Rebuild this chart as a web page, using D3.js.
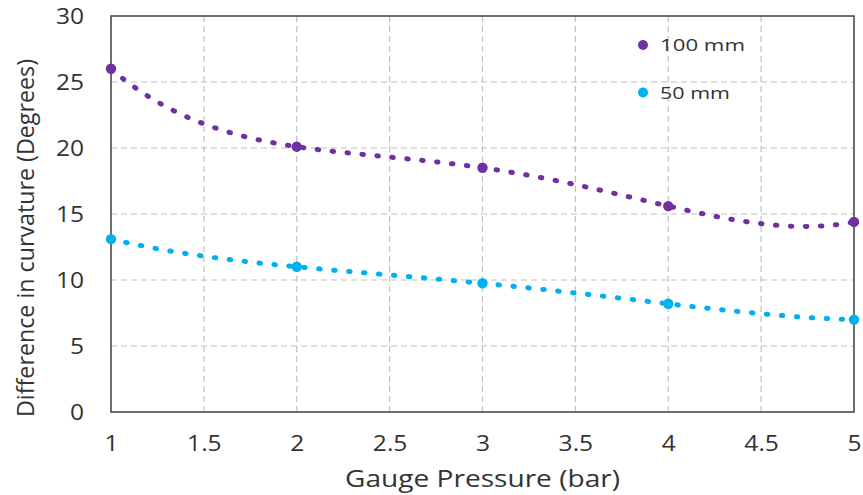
<!DOCTYPE html>
<html><head><meta charset="utf-8">
<script src="https://cdn.jsdelivr.net/npm/d3@7"></script>
<style>body{margin:0;background:#fff}text{font-family:"Open Sans",sans-serif;fill:#333}</style>
</head><body><svg id="c" width="863" height="495"></svg>
<script>
const pressure = [1, 2, 3, 4, 5];
const series100 = [26.0, 20.1, 18.5, 15.6, 14.4];
const series50 = [13.1, 11.0, 9.75, 8.2, 7.0];
const seriesNames = ["100 mm", "50 mm"];
const seriesColors = ["#7030a0", "#00b0f0"];
const xTicks = [1, 1.5, 2, 2.5, 3, 3.5, 4, 4.5, 5];
const yTicks = [0, 5, 10, 15, 20, 25, 30];
const trendOrder = 4; // polynomial trendline (order 4) drawn through each series

const svg = d3.select("#c");
const L = 111, R = 854, T = 16, B = 412;
const x = d3.scaleLinear().domain([1, 5]).range([L, R]);
const y = d3.scaleLinear().domain([0, 30]).range([B, T]);

// grid
svg.append("g").selectAll("line").data(xTicks.slice(1, -1)).join("line")
  .attr("x1", d => x(d)).attr("x2", d => x(d)).attr("y1", T).attr("y2", B)
  .attr("stroke", "#c0c0c0").attr("stroke-width", 1.2).attr("stroke-dasharray", "6,4");
svg.append("g").selectAll("line").data(yTicks.slice(1, -1)).join("line")
  .attr("y1", d => y(d)).attr("y2", d => y(d)).attr("x1", L).attr("x2", R)
  .attr("stroke", "#c0c0c0").attr("stroke-width", 1.2).attr("stroke-dasharray", "6,4");

// frame
svg.append("rect").attr("x", L).attr("y", T).attr("width", R - L).attr("height", B - T)
  .attr("fill", "none").attr("stroke", "#404040").attr("stroke-width", 1.5);

// axes
const xAxis = svg.append("g").attr("transform", `translate(0,${B})`)
  .call(d3.axisBottom(x).tickValues(xTicks).tickSize(0).tickPadding(0).tickFormat(d3.format("")));
xAxis.select(".domain").remove();
xAxis.selectAll("text").attr("y", 0).attr("dy", 0)
  .attr("transform", "translate(0,38.5) scale(1.17,1)")
  .style("font-size", "21px").style("font-family", "Open Sans").attr("fill", "#333");
const yAxis = svg.append("g").attr("transform", `translate(${L},0)`)
  .call(d3.axisLeft(y).tickValues(yTicks).tickSize(0).tickPadding(0));
yAxis.select(".domain").remove();
yAxis.selectAll("text").attr("x", 0).attr("dy", "0.36em")
  .attr("transform", "translate(-27,0) scale(1.17,1)")
  .style("font-size", "21px").style("font-family", "Open Sans").attr("fill", "#333");

svg.append("text").attr("x", 482.5).attr("y", 487).attr("text-anchor", "middle")
  .attr("textLength", 275).attr("lengthAdjust", "spacingAndGlyphs")
  .style("font-size", "23px").text("Gauge Pressure (bar)");
svg.append("text").attr("transform", `translate(33.5,238) rotate(-90)`)
  .attr("text-anchor", "middle").attr("textLength", 358).attr("lengthAdjust", "spacingAndGlyphs")
  .style("font-size", "23px").text("Difference in curvature (Degrees)");

// polynomial trendline (order 4 through 5 points == Lagrange form)
function polyTrend(xs, ys) {
  return t => {
    let s = 0;
    for (let i = 0; i < xs.length; i++) {
      let p = ys[i];
      for (let j = 0; j < xs.length; j++) if (j !== i) p *= (t - xs[j]) / (xs[i] - xs[j]);
      s += p;
    }
    return s;
  };
}

const data = [series100, series50];
const tGrid = d3.range(0, 401).map(i => 1 + i * 0.01);
const line = d3.line().x(d => x(d[0])).y(d => y(d[1]));
data.forEach((s, k) => {
  const f = polyTrend(pressure, s);
  svg.append("path").datum(tGrid.map(t => [t, f(t)])).attr("d", line).attr("fill", "none")
    .attr("stroke", seriesColors[k]).attr("stroke-width", 5)
    .attr("stroke-linecap", "round").attr("stroke-dasharray", "1.5,13.5");
  svg.append("g").selectAll("circle").data(s).join("circle")
    .attr("cx", (d, i) => x(pressure[i])).attr("cy", d => y(d)).attr("r", 5.2)
    .attr("fill", seriesColors[k]);
});

// legend
const lg = svg.append("g");
const legLen = [85, 70];
seriesNames.forEach((n, k) => {
  lg.append("circle").attr("cx", 643).attr("cy", 45 + k * 47.5).attr("r", 5).attr("fill", seriesColors[k]);
  lg.append("text").attr("x", 660).attr("y", 45 + k * 47.5).attr("dy", "0.36em")
    .attr("textLength", legLen[k]).attr("lengthAdjust", "spacingAndGlyphs")
    .style("font-size", "17px").text(n);
});
</script></body></html>
